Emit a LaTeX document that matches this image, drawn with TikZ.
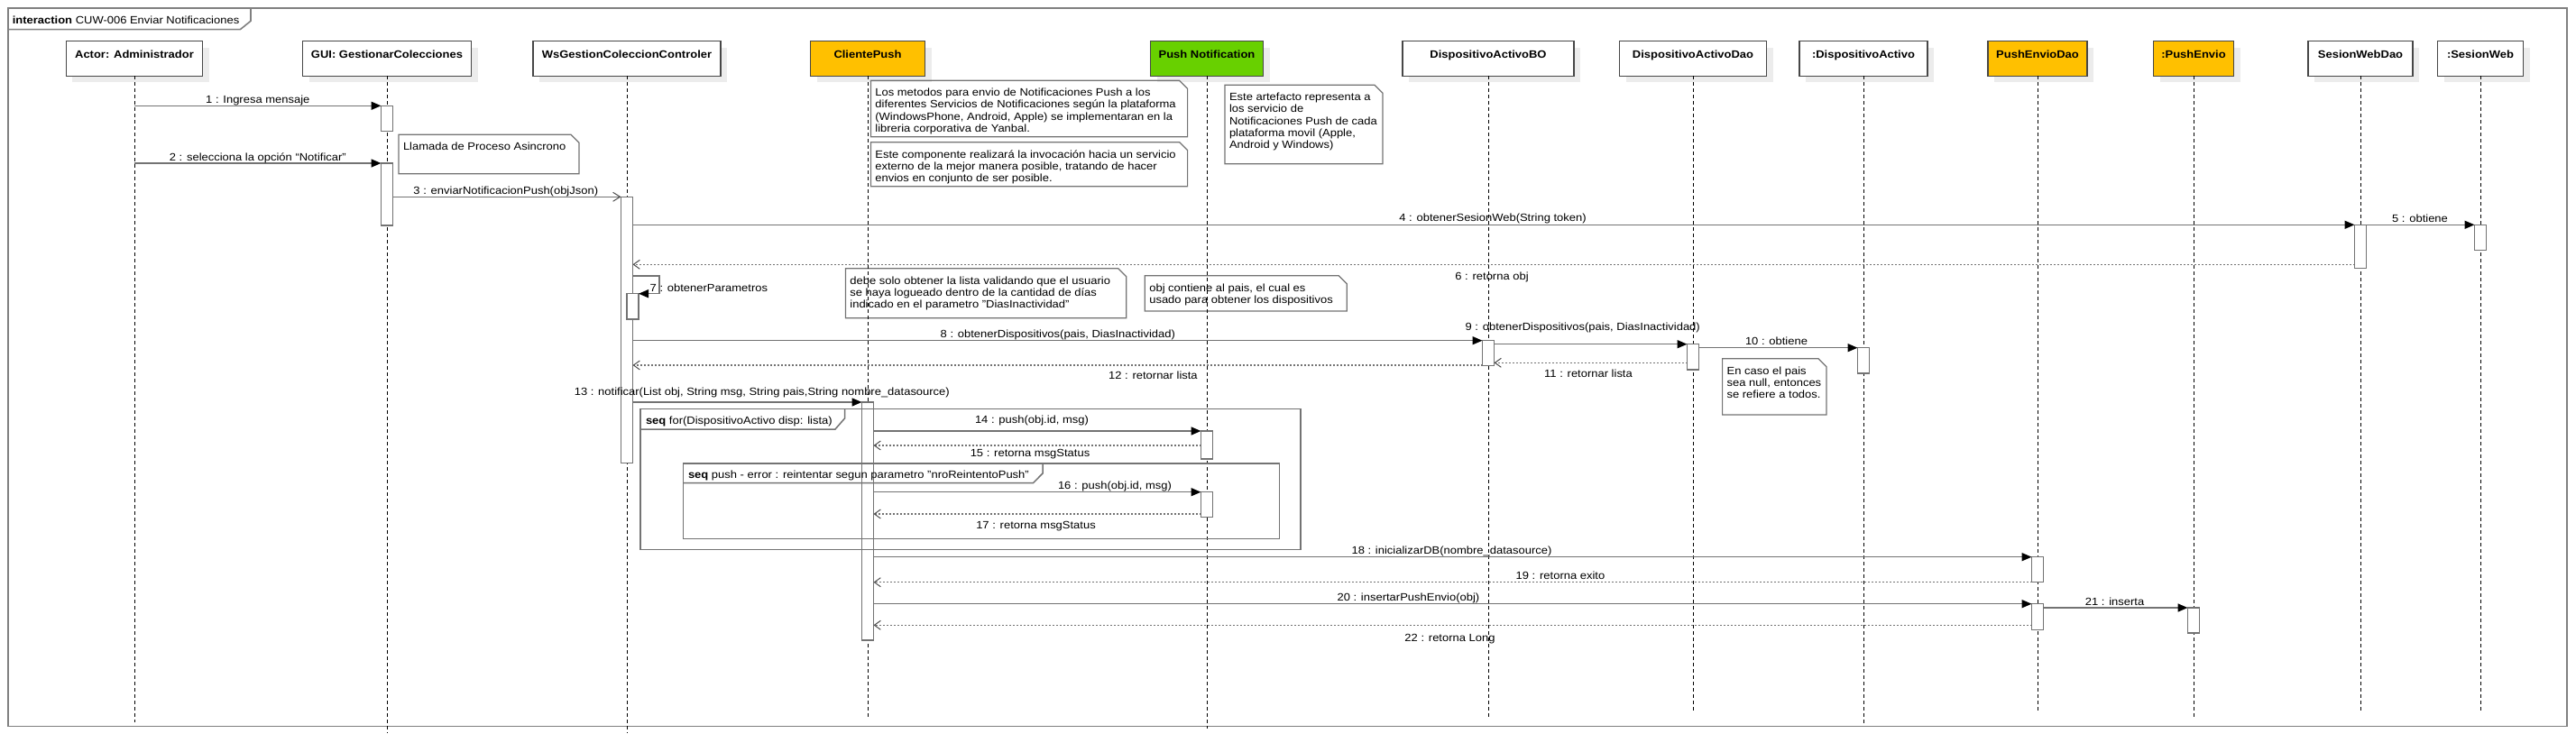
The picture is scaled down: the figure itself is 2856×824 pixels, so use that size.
\documentclass[tikz,border=0pt]{standalone}
\usepackage{fontspec}
\setmainfont{Liberation Sans}[FakeStretch=1.10]
\usetikzlibrary{arrows.meta}
\pgfdeclarelayer{bg}
\pgfsetlayers{bg,main}
\definecolor{orng}{RGB}{255,192,0}
\definecolor{grn}{RGB}{104,208,0}
\definecolor{lgray}{RGB}{115,115,115}
\definecolor{fgray}{RGB}{128,128,128}
\definecolor{shd}{RGB}{236,236,236}
\newcommand{\umlnote}[6]{%
  \node[notefr, minimum width={#4-#2}, minimum height={#5-#3}] (#1) at (#2,#3) {};
  \draw[notebd] (#1.north west) -- ([xshift=-9pt]#1.north east) -- ([yshift=-9pt]#1.north east) -- (#1.south east) -- (#1.south west) -- cycle;
  \node[notetxt] (#1t) at ([xshift=5pt,yshift=-9pt]#1.north west) {#6};
}
\tikzset{
  every node/.style={font=\fontsize{11.8}{13.1}\selectfont, inner sep=0pt, outer sep=0pt},
  hdr/.style={draw=black!72, line width=1.2pt, fill=white, minimum height=38.6pt,
    text height=11pt, text depth=11pt, font=\fontsize{11.8}{13.1}\selectfont\bfseries},
  framebox/.style={anchor=north west, draw=fgray, line width=1.6pt},
  framel/.style={draw=fgray, line width=1.6pt},
  notefr/.style={anchor=north west, inner sep=0pt, draw=none},
  notebd/.style={draw=lgray, line width=1.2pt},
  notetxt/.style={anchor=north west, align=left, inner sep=0pt},
  life/.style={draw=black, line width=1pt, dash pattern=on 4pt off 3pt},
  act/.style={anchor=north, draw=lgray, line width=1.2pt, fill=white, minimum width=13pt},
  fragbox/.style={anchor=north west, draw=lgray, line width=1.5pt},
  fragl/.style={draw=lgray, line width=1.5pt},
  sync/.style={draw=lgray, line width=1.5pt, -{Triangle[length=11pt,width=9pt,black]}},
  async/.style={draw=lgray, line width=1.5pt, -{Straight Barb[length=8pt,width=10pt,line width=1pt,black!70]}},
  ret/.style={draw=lgray, line width=1.5pt, dash pattern=on 2pt off 2pt, -{Straight Barb[length=7pt,width=10pt,line width=1pt,black!70]}},
  lbl/.style={anchor=base}
}
\begin{document}
\begin{tikzpicture}[x=1pt,y=-1pt]
\useasboundingbox (0,0) rectangle (2856,824);
% frame
\node[framebox, minimum width=2837pt, minimum height=796pt] (fr) at (9,9.3) {};
\draw[framel] (9,32.7) -- (266.3,32.7) -- (278,23.3) -- (278,9.3);
\node[lbl, anchor=base west] (frl) at (13.8,27) {\textbf{interaction} CUW-006 Enviar Notificaciones};

% headers
\node[hdr, minimum width=151.5pt] (hA) at (149,65) {Actor: Administrador};
\node[hdr, minimum width=187pt] (hG) at (429,65) {GUI: GestionarColecciones};
\node[hdr, minimum width=208pt] (hW) at (695,65) {WsGestionColeccionControler};
\node[hdr, minimum width=127pt, fill=orng] (hC) at (962,65) {ClientePush};
\node[hdr, minimum width=125pt, fill=grn] (hP) at (1338,65) {Push Notification};
\node[hdr, minimum width=190pt] (hB) at (1650,65) {DispositivoActivoBO};
\node[hdr, minimum width=163pt] (hD) at (1877,65) {DispositivoActivoDao};
\node[hdr, minimum width=142pt] (hX) at (2066,65) {:DispositivoActivo};
\node[hdr, minimum width=110pt, fill=orng] (hE) at (2259,65) {PushEnvioDao};
\node[hdr, minimum width=89pt, fill=orng] (hQ) at (2432,65) {:PushEnvio};
\node[hdr, minimum width=116pt] (hS) at (2617,65) {SesionWebDao};
\node[hdr, minimum width=95pt] (hT) at (2750,65) {:SesionWeb};
\begin{pgfonlayer}{bg}
\foreach \h in {hA,hG,hW,hC,hP,hB,hD,hX,hE,hQ,hS,hT}
  \fill[shd] ([shift={(7pt,-7pt)}]\h.north west) rectangle ([shift={(7pt,-7pt)}]\h.south east);
\end{pgfonlayer}

% notes
\umlnote{nL}{442}{149.3}{642}{192.7}{Llamada de Proceso Asincrono}
\umlnote{nA}{965.4}{89.3}{1316.6}{151.7}{Los metodos para envio de Notificaciones Push a los\\diferentes Servicios de Notificaciones según la plataforma\\(WindowsPhone, Android, Apple) se implementaran en la\\libreria corporativa de Yanbal.}
\umlnote{nB}{965.4}{157.7}{1316.6}{206.7}{Este componente realizará la invocación hacia un servicio\\externo de la mejor manera posible, tratando de hacer\\envios en conjunto de ser posible.}
\umlnote{nC}{1358}{94.3}{1533}{181.7}{Este artefacto representa a\\los servicio de\\Notificaciones Push de cada\\plataforma movil (Apple,\\Android y Windows)}
\umlnote{nD}{937.4}{297.7}{1248.7}{352.7}{debe solo obtener la lista validando que el usuario\\se haya logueado dentro de la cantidad de días\\indicado en el parametro "DiasInactividad"}
\umlnote{nE}{1269.3}{305.7}{1493.2}{345}{obj contiene al pais, el cual es\\usado para obtener los dispositivos}
\umlnote{nF}{1909.6}{397.7}{2024.9}{460}{En caso el pais\\sea null, entonces\\se refiere a todos.}

% lifelines
\coordinate (eA) at (149,801);
\coordinate (eG) at (429,813);
\coordinate (eW) at (695,813);
\coordinate (eC) at (962,797);
\coordinate (eP) at (1338,808);
\coordinate (eB) at (1650,797);
\coordinate (eD) at (1877,790);
\coordinate (eX) at (2066,802);
\coordinate (eE) at (2259,790);
\coordinate (eQ) at (2432,797);
\coordinate (eS) at (2617,790);
\coordinate (eT) at (2750,790);
\foreach \h/\e in {hA/eA,hG/eG,hW/eW,hC/eC,hP/eP,hB/eB,hD/eD,hX/eX,hE/eE,hQ/eQ,hS/eS,hT/eT}
  \draw[life] (\h) -- (\e);

% activations
\node[act, minimum height=28pt] (aG1) at (429,117.3) {};
\node[act, minimum height=69pt] (aG2) at (429,181) {};
\node[act, minimum height=295pt] (aW1) at (695,218.3) {};
\node[act, minimum height=28.3pt] (aW2) at (701.5,325.7) {};
\node[act, minimum height=48.4pt] (aSD) at (2617,249.3) {};
\node[act, minimum height=28.4pt] (aSW) at (2750,249.3) {};
\node[act, minimum height=28pt] (aB) at (1650,377.7) {};
\node[act, minimum height=28.3pt] (aD) at (1877,381.7) {};
\node[act, minimum height=28.3pt] (aX) at (2066,385.7) {};
\node[act, minimum height=264pt] (aC) at (962,446) {};
\node[act, minimum height=31pt] (aP1) at (1338,478) {};
\node[act, minimum height=27.6pt] (aP2) at (1338,545.7) {};
\node[act, minimum height=28pt] (aE1) at (2259,617.7) {};
\node[act, minimum height=28.6pt] (aE2) at (2259,669.7) {};
\node[act, minimum height=28pt] (aQ) at (2432,674) {};

% combined fragments
\node[fragbox, minimum width=732.1pt, minimum height=156pt] (f1) at (710.1,453.3) {};
\draw[fragl] (710.1,476) -- (926,476) -- (936.5,464) -- (936.5,453.3);
\node[lbl, anchor=base west] (f1l) at (716,470.5) {\textbf{seq} for(DispositivoActivo disp: lista)};
\node[fragbox, minimum width=661pt, minimum height=83.7pt] (f2) at (757.4,514) {};
\draw[fragl] (757.4,535.7) -- (1145.4,535.7) -- (1156,525) -- (1156,514);
\node[lbl, anchor=base west] (f2l) at (763,530.5) {\textbf{seq} push - error : reintentar segun parametro "nroReintentoPush"};

% messages
\draw[sync] (hA.south |- 0,117.3) -- (aG1.north west);
\draw[sync] (hA.south |- 0,181) -- (aG2.north west);
\draw[async] (aG2.east |- 0,218.3) -- (aW1.north west);
\draw[sync] (aW1.east |- 0,249.3) -- (aSD.north west);
\draw[sync] (aSD.north east) -- (aSW.north west);
\draw[ret] (aSD.west |- 0,293.3) -- (aW1.east |- 0,293.3);
\draw[sync] (aW1.east |- 0,306) -- (731,306) -- (731,325.7) -- (aW2.north east);
\draw[sync] (aW1.east |- 0,377.7) -- (aB.north west);
\draw[sync] (aB.east |- 0,381.7) -- (aD.north west);
\draw[sync] (aD.east |- 0,385.7) -- (aX.north west);
\draw[ret] (aD.west |- 0,402.3) -- (aB.east |- 0,402.3);
\draw[ret] (aB.west |- 0,405) -- (aW1.east |- 0,405);
\draw[sync] (aW1.east |- 0,446) -- (aC.north west);
\draw[sync] (aC.east |- 0,478) -- (aP1.north west);
\draw[ret] (aP1.west |- 0,494) -- (aC.east |- 0,494);
\draw[sync] (aC.east |- 0,545.7) -- (aP2.north west);
\draw[ret] (aP2.west |- 0,570) -- (aC.east |- 0,570);
\draw[sync] (aC.east |- 0,617.7) -- (aE1.north west);
\draw[ret] (aE1.west |- 0,645.7) -- (aC.east |- 0,645.7);
\draw[sync] (aC.east |- 0,669.7) -- (aE2.north west);
\draw[sync] (aE2.east |- 0,674) -- (aQ.north west);
\draw[ret] (aE2.west |- 0,693.3) -- (aC.east |- 0,693.3);

% labels
\node[lbl] (l1) at (285.8,115) {1 : Ingresa mensaje};
\node[lbl] (l2) at (285.8,178.5) {2 : selecciona la opción “Notificar”};
\node[lbl] (l3) at (560.8,215.8) {3 : enviarNotificacionPush(objJson)};
\node[lbl] (l4) at (1655,245.5) {4 : obtenerSesionWeb(String token)};
\node[lbl] (l5) at (2683,246) {5 : obtiene};
\node[lbl] (l6) at (1654,310.5) {6 : retorna obj};
\node[lbl, anchor=base west] (l7) at (720.7,323) {7 : obtenerParametros};
\node[lbl] (l8) at (1172.8,374.5) {8 : obtenerDispositivos(pais, DiasInactividad)};
\node[lbl] (l9) at (1754.7,366) {9 : obtenerDispositivos(pais, DiasInactividad)};
\node[lbl] (l10) at (1969.5,382) {10 : obtiene};
\node[lbl] (l11) at (1761,418) {11 : retornar lista};
\node[lbl] (l12) at (1278.4,420) {12 : retornar lista};
\node[lbl] (l13) at (844.8,438.5) {13 : notificar(List obj, String msg, String pais,String nombre\_datasource)};
\node[lbl] (l14) at (1144,469) {14 : push(obj.id, msg)};
\node[lbl] (l15) at (1142,506.5) {15 : retorna msgStatus};
\node[lbl] (l16) at (1236,542.5) {16 : push(obj.id, msg)};
\node[lbl] (l17) at (1148.5,586.5) {17 : retorna msgStatus};
\node[lbl] (l18) at (1609.5,614) {18 : inicializarDB(nombre\_datasource)};
\node[lbl] (l19) at (1730,642.5) {19 : retorna exito};
\node[lbl] (l20) at (1561.4,666) {20 : insertarPushEnvio(obj)};
\node[lbl] (l21) at (2344.5,671) {21 : inserta};
\node[lbl] (l22) at (1607.5,711) {22 : retorna Long};
\end{tikzpicture}
\end{document}
